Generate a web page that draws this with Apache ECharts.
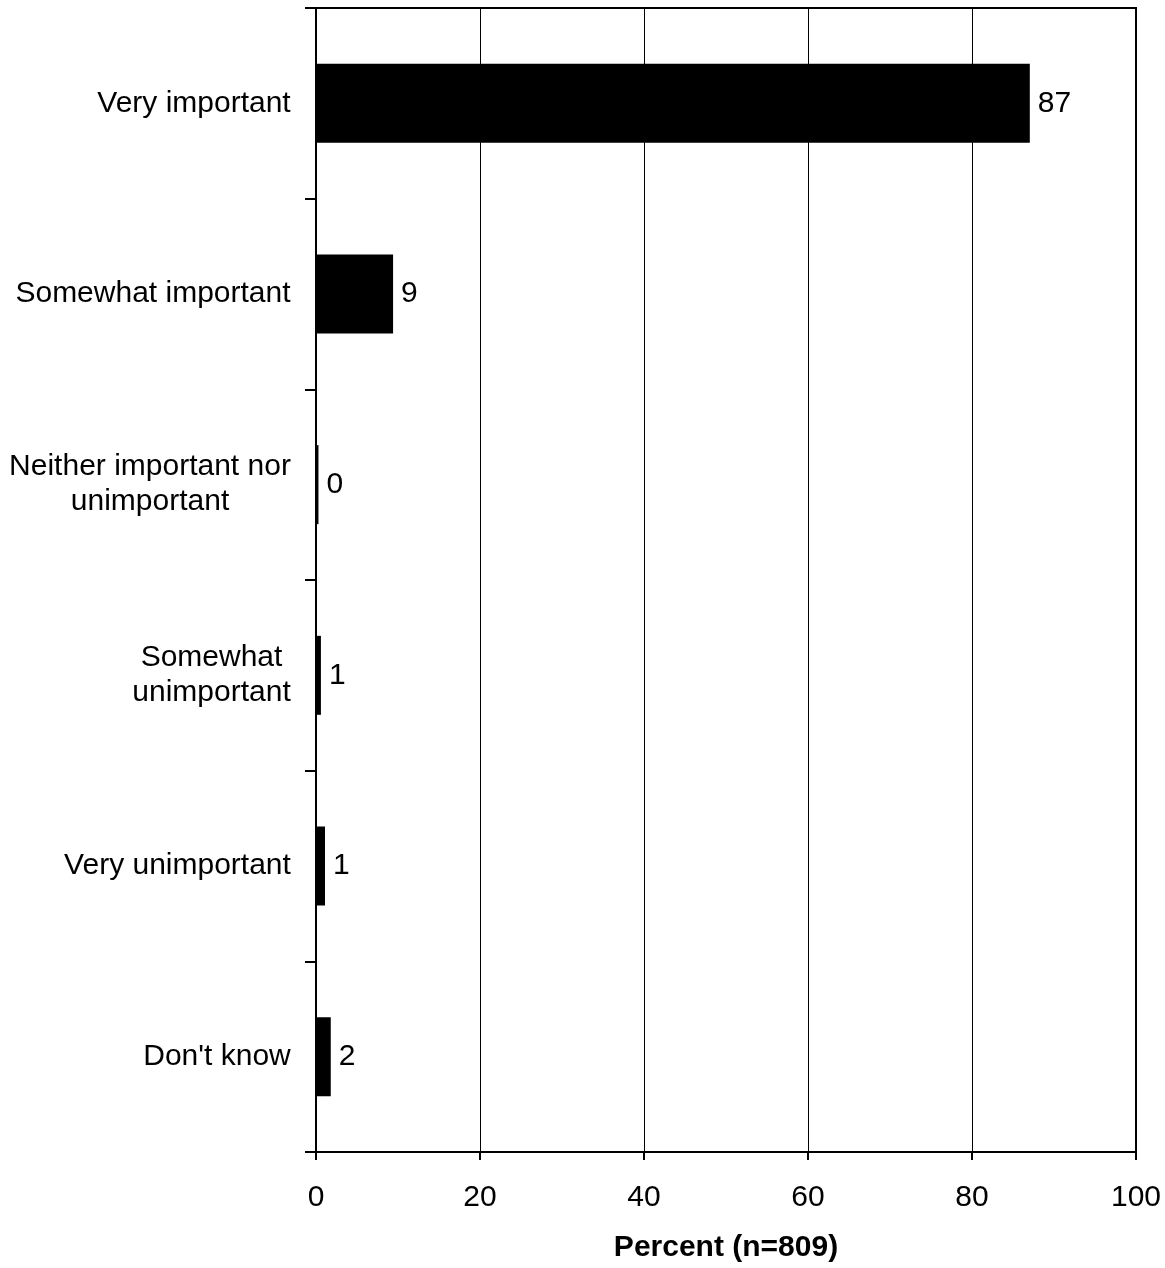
<!DOCTYPE html>
<html>
<head>
<meta charset="utf-8">
<script src="https://cdn.jsdelivr.net/npm/echarts@6/dist/echarts.min.js"></script>
<style>
html,body{margin:0;padding:0;background:#fff;}
#chart{width:1165px;height:1268px;}
</style>
</head>
<body>
<div id="chart"></div>
<script>
var categories = ['Very important', 'Somewhat important', 'Neither important nor\nunimportant', 'Somewhat\nunimportant', 'Very unimportant', "Don't know"];
var values = [87.05, 9.4, 0.3, 0.6, 1.1, 1.8];
var valueLabels = ['87', '9', '0', '1', '1', '2'];
var xTicks = [0, 20, 40, 60, 80, 100];
var axisTitle = 'Percent (n=809)';

var FONT = '"Liberation Sans", Arial, Helvetica, sans-serif';
var FS = 30;

// measure widths for centered multi-line labels
var cv = document.createElement('canvas').getContext('2d');
cv.font = FS + 'px ' + FONT;
var rich = {};
categories.forEach(function (c, i) {
  var w = 0;
  c.split('\n').forEach(function (l) { w = Math.max(w, cv.measureText(l).width); });
  rich['c' + i] = { width: Math.ceil(w), align: 'center', fontSize: FS, fontFamily: FONT, color: '#000', lineHeight: 35 };
});

var chart = echarts.init(document.getElementById('chart'), null, { renderer: 'canvas' });
chart.setOption({
  animation: false,
  backgroundColor: '#fff',
  grid: {
    left: 316, right: 29, top: 8, bottom: 112,
    show: true, borderColor: '#000', borderWidth: 2, backgroundColor: 'transparent'
  },
  xAxis: {
    type: 'value', min: 0, max: 100, interval: 20,
    axisLine: { show: true, lineStyle: { color: '#000', width: 2 } },
    axisTick: { show: true, length: 8, lineStyle: { color: '#000', width: 2 } },
    splitLine: { show: true, lineStyle: { color: '#000', width: 1 } },
    axisLabel: {
      margin: 31, fontSize: FS, fontFamily: FONT, color: '#000',
      formatter: function (v) { return xTicks.indexOf(v) >= 0 ? String(v) : ''; }
    },
    name: axisTitle, nameLocation: 'middle', nameGap: 81,
    nameTextStyle: { fontSize: FS, fontWeight: 'bold', fontFamily: FONT, color: '#000' }
  },
  yAxis: {
    type: 'category', inverse: true, data: categories,
    axisLine: { show: true, lineStyle: { color: '#000', width: 2 } },
    axisTick: { show: true, length: 11, lineStyle: { color: '#000', width: 2 } },
    splitLine: { show: false },
    axisLabel: {
      margin: 25, align: 'right', color: '#000', fontSize: FS, fontFamily: FONT,
      formatter: function (v, i) {
        return v.split('\n').map(function (l) { return '{c' + i + '|' + l + '}'; }).join('\n');
      },
      rich: rich
    }
  },
  series: [{
    type: 'bar',
    data: values,
    barWidth: 79,
    itemStyle: { color: '#000' },
    label: {
      show: true, position: 'right', distance: 8,
      fontSize: FS, fontFamily: FONT, color: '#000',
      formatter: function (p) { return valueLabels[p.dataIndex]; }
    }
  }]
});
</script>
</body>
</html>
